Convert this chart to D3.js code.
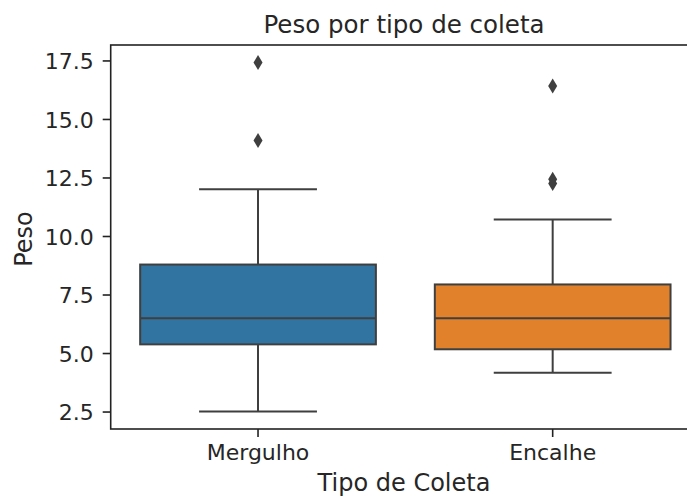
<!DOCTYPE html>
<html>
<head>
<meta charset="utf-8">
<script src="https://cdn.jsdelivr.net/npm/d3@7"></script>
<style>
  body { margin: 0; background: #fff; }
  svg { display: block; font-family: "DejaVu Sans", sans-serif; }
</style>
</head>
<body>
<div id="chart"></div>
<script>
// categorias e estatisticas
var categorias = ["Mergulho", "Encalhe"];
var cores = ["#3274a1", "#e1812c"];
var q1 = [5.37, 5.16];
var medianas = [6.49, 6.49];
var q3 = [8.78, 7.93];
var whiskerMin = [2.5, 4.16];
var whiskerMax = [12.0, 10.71];
var outliers = [[14.08, 17.41], [12.24, 12.42, 16.41]];
var yTicks = [2.5, 5.0, 7.5, 10.0, 12.5, 15.0, 17.5];

var w = 687, h = 496,
    margin = { top: 45, bottom: 67, left: 110.7 };
var plotBottom = h - margin.bottom; // 429
var plotRight = 700; // o quadro passa da borda da imagem

var svg = d3.select("#chart").append("svg")
    .attr("width", w)
    .attr("height", h);

var x = d3.scaleBand()
    .domain(categorias)
    .range([margin.left, plotRight])
    .paddingInner(0).paddingOuter(0);

var y = d3.scaleLinear()
    .domain([1.754, 18.16])
    .range([plotBottom, margin.top]);

var boxW = x.bandwidth() * 0.8;
var lineCor = "#3f3f3f";

var dados = categorias.map(function (c, i) {
    return { cat: c, cor: cores[i], q1: q1[i], med: medianas[i], q3: q3[i],
             lo: whiskerMin[i], hi: whiskerMax[i], out: outliers[i] };
});

function cx(d) { return x(d.cat) + x.bandwidth() / 2; }

var g = svg.append("g");
var caixas = g.selectAll(".box").data(dados).enter().append("g").attr("class", "box");

// whiskers
caixas.append("line")
    .attr("x1", cx).attr("x2", cx)
    .attr("y1", function (d) { return y(d.q3); })
    .attr("y2", function (d) { return y(d.hi); })
    .attr("stroke", lineCor).attr("stroke-width", 2);
caixas.append("line")
    .attr("x1", cx).attr("x2", cx)
    .attr("y1", function (d) { return y(d.q1); })
    .attr("y2", function (d) { return y(d.lo); })
    .attr("stroke", lineCor).attr("stroke-width", 2);
// caps
["hi", "lo"].forEach(function (k) {
    caixas.append("line")
        .attr("x1", function (d) { return cx(d) - boxW / 4; })
        .attr("x2", function (d) { return cx(d) + boxW / 4; })
        .attr("y1", function (d) { return y(d[k]); })
        .attr("y2", function (d) { return y(d[k]); })
        .attr("stroke", lineCor).attr("stroke-width", 2);
});

// caixa
caixas.append("rect")
    .attr("x", function (d) { return cx(d) - boxW / 2; })
    .attr("y", function (d) { return y(d.q3); })
    .attr("width", boxW)
    .attr("height", function (d) { return y(d.q1) - y(d.q3); })
    .attr("fill", function (d) { return d.cor; })
    .attr("stroke", lineCor).attr("stroke-width", 2);

// mediana
caixas.append("line")
    .attr("x1", function (d) { return cx(d) - boxW / 2; })
    .attr("x2", function (d) { return cx(d) + boxW / 2; })
    .attr("y1", function (d) { return y(d.med); })
    .attr("y2", function (d) { return y(d.med); })
    .attr("stroke", lineCor).attr("stroke-width", 2);

// outliers (losango fino)
caixas.each(function (d) {
    d3.select(this).selectAll(".flier").data(d.out).enter().append("path")
        .attr("class", "flier")
        .attr("d", "M0,-7.5L4.5,0L0,7.5L-4.5,0Z")
        .attr("transform", function (v) {
            return "translate(" + cx(d) + "," + y(v) + ")";
        })
        .attr("fill", lineCor);
});

// eixos
var yAxis = svg.append("g")
    .attr("transform", "translate(" + margin.left + ",0)")
    .call(d3.axisLeft(y).tickValues(yTicks).tickFormat(d3.format(".1f")).tickSizeInner(8).tickSizeOuter(0).tickPadding(9));
var xAxis = svg.append("g")
    .attr("transform", "translate(0," + plotBottom + ")")
    .call(d3.axisBottom(x).tickSizeInner(8).tickSizeOuter(0).tickPadding(8));

[yAxis, xAxis].forEach(function (a) {
    a.select(".domain").remove();
    a.selectAll(".tick line").attr("stroke", "#222").attr("stroke-width", 1.6);
    a.selectAll(".tick text").attr("fill", "#262626").style("font-size", "22px")
        .style("font-family", "DejaVu Sans");
});
yAxis.selectAll(".tick text").attr("dy", "0.38em");
xAxis.selectAll(".tick text").attr("dy", "0.7em");

// spines
svg.append("rect")
    .attr("x", margin.left).attr("y", margin.top)
    .attr("width", plotRight - margin.left).attr("height", plotBottom - margin.top)
    .attr("fill", "none").attr("stroke", "#222").attr("stroke-width", 1.6);

// textos
svg.append("text")
    .attr("x", 404).attr("y", 33)
    .attr("text-anchor", "middle")
    .style("font-size", "24.5px").attr("fill", "#262626")
    .text("Peso por tipo de coleta");

svg.append("text")
    .attr("x", 404).attr("y", 491)
    .attr("text-anchor", "middle")
    .style("font-size", "24px").attr("fill", "#262626")
    .text("Tipo de Coleta");

svg.append("text")
    .attr("transform", "translate(32,239) rotate(-90)")
    .attr("text-anchor", "middle")
    .style("font-size", "24px").attr("fill", "#262626")
    .text("Peso");
</script>
</body>
</html>
